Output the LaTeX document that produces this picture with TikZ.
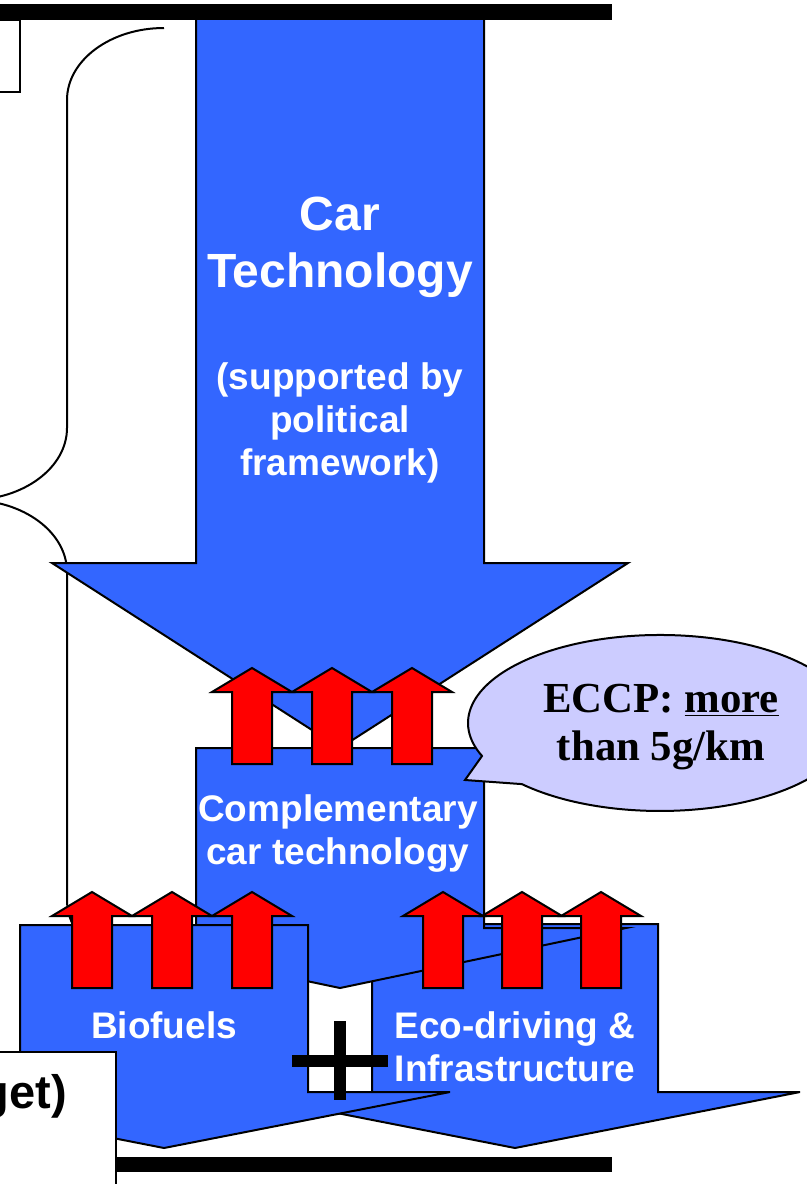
\documentclass[tikz,border=0pt]{standalone}
\usepackage{fontspec}
\setmainfont{Liberation Sans}
\newfontfamily\serifbold{Liberation Serif}
\definecolor{arrowblue}{RGB}{51,102,255}
\definecolor{bubble}{RGB}{204,204,255}
\begin{document}
\begin{tikzpicture}[x=0.5pt,y=-0.5pt,line width=1pt,
    bluearrow/.style={draw,fill=arrowblue},
    redup/.style={draw,fill=red},
    bigtext/.style={text=white,font=\fontsize{24}{28.5}\selectfont\bfseries,align=center,inner sep=0pt},
    smalltext/.style={text=white,font=\fontsize{18.5}{21.5}\selectfont\bfseries,align=center,inner sep=0pt}]
  \useasboundingbox (0,0) rectangle (807,1184);
  \draw (164,28) .. controls (110.5,28) and (67,60.3) .. (67,100) -- (67,428)
    .. controls (67,467.7) and (23.5,500) .. (-30,500)
    .. controls (23.5,500) and (67,532.3) .. (67,572) -- (67,900)
    .. controls (67,939.7) and (110.5,972) .. (164,972);
  \draw (-5,20) rectangle (20,92);
  \draw[bluearrow] (196,10) -- (484,10) -- (484,563) -- (628,563) -- (340,748) -- (52,563) -- (196,563) -- cycle;
  \draw[bluearrow] (372,924) -- (658,924) -- (658,1092) -- (800,1092) -- (515,1148) -- (230,1092) -- (372,1092) -- cycle;
  \draw[bluearrow] (196,748) -- (484,748) -- (484,928) -- (626,928) -- (340,988) -- (54,928) -- (196,928) -- cycle;
  \draw[bluearrow] (20,925) -- (308,925) -- (308,1092) -- (450,1092) -- (164,1148) -- (-122,1092) -- (20,1092) -- cycle;
  \node[bigtext] (car) at (340,247) {Car\\Technology};
  \node[smalltext] (support) at (340,423) {(supported by\\political\\framework)};
  \node[smalltext] (compl) at (338,834) {Complementary\\car technology};
  \node[smalltext] (bio) at (164,1025) {Biofuels};
  \node[smalltext] (eco) at (515,1047) {Eco-driving \&\\Infrastructure};
  \foreach \c/\t in {252/668,332/668,412/668,92/892,172/892,252/892,443/892,522/892,601/892}
    \draw[redup] (\c-20,\t+96) -- (\c-20,\t+24) -- (\c-40,\t+24) -- (\c,\t) -- (\c+40,\t+24) -- (\c+20,\t+24) -- (\c+20,\t+96) -- cycle;
  \fill (334,1021) rectangle (346,1100);
  \fill (292,1055) rectangle (388,1067);
  \draw[fill=bubble] (482,756) -- (465,780) -- (521.9,784.1) arc[start angle=136,end angle=-202,x radius=192,y radius=88] -- cycle;
  \node[font=\serifbold\fontsize{21.4}{24}\selectfont\bfseries,align=center,inner sep=0pt] (eccp) at (661,727) {ECCP: \underline{more}\\than 5g/km};
  \draw[fill=white] (-5,1052) rectangle (116,1190);
  \node[anchor=base east,font=\fontsize{23.5}{28}\selectfont\bfseries,inner sep=0pt] (budget) at (68,1108) {get)};
  \fill (0,4) rectangle (612,20);
  \fill (116,1157) rectangle (612,1172);
\end{tikzpicture}
\end{document}
